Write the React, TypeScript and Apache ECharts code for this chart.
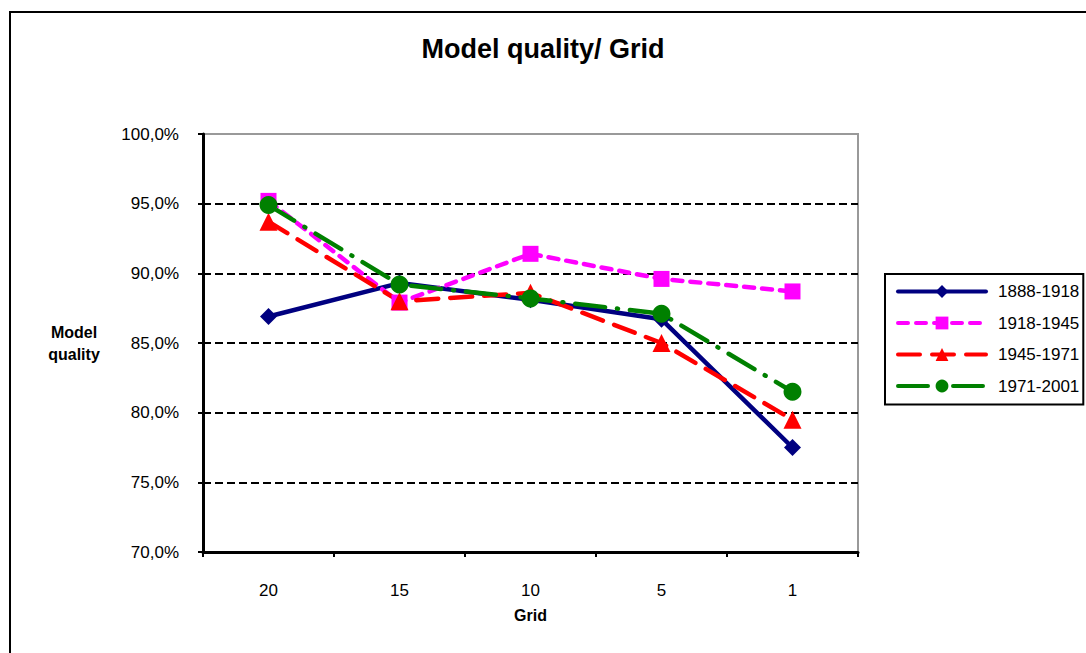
import React, { useEffect, useRef } from "react";
import * as echarts from "echarts";

const categories = ["20", "15", "10", "5", "1"];
const s1888 = [86.9, 89.3, 88.1, 86.7, 77.5];
const s1918 = [95.2, 87.9, 91.4, 89.6, 88.7];
const s1945 = [93.7, 88.0, 88.6, 85.0, 79.5];
const s1971 = [94.9, 89.2, 88.2, 87.1, 81.5];
const seriesNames = ["1888-1918", "1918-1945", "1945-1971", "1971-2001"];

const FONT = "Liberation Sans, Arial, sans-serif";

export default function App() {
  const ref = useRef<HTMLDivElement>(null);
  useEffect(() => {
    if (!ref.current) return;
    const chart = echarts.init(ref.current, null, { renderer: "svg" });
    const mk = (name: string, data: number[], color: string, dash: any, symbol: string, size: number) => ({
      name,
      type: "line",
      data,
      symbol,
      symbolSize: size,
      itemStyle: { color },
      lineStyle: { color, width: 4.5, type: dash, cap: "round" },
      z: 3,
    });
    chart.setOption({
      animation: false,
      backgroundColor: "#fff",
      textStyle: { fontFamily: FONT },
      title: {
        text: "Model quality/ Grid",
        left: "center",
        top: 30,
        textStyle: { fontSize: 27, fontWeight: "bold", color: "#000", fontFamily: FONT },
      },
      graphic: [
        {
          type: "rect",
          shape: { x: 10, y: 12, width: 1090, height: 660 },
          style: { fill: "none", stroke: "#000", lineWidth: 2 },
          z: -1,
        },
      ],
      legend: {
        orient: "vertical",
        left: 885,
        top: 274,
        padding: [9, 4, 10, 11],
        itemWidth: 88,
        itemHeight: 16,
        itemGap: 14.5,
        borderColor: "#000",
        borderWidth: 2,
        backgroundColor: "#fff",
        data: seriesNames,
        lineStyle: { width: 4 },
        textStyle: { fontSize: 17, color: "#000", fontFamily: FONT, padding: [0, 0, 0, 7] },
      },
      grid: {
        left: 203,
        top: 134,
        width: 655,
        height: 418,
        show: true,
        borderColor: "#999",
        borderWidth: 2,
      },
      xAxis: {
        type: "category",
        data: categories,
        boundaryGap: true,
        name: "Grid",
        nameLocation: "middle",
        nameGap: 55,
        nameTextStyle: { fontSize: 16, fontWeight: "bold", color: "#000", fontFamily: FONT },
        axisLine: { lineStyle: { color: "#000", width: 3 } },
        axisTick: { show: true, interval: 0, length: 5, lineStyle: { color: "#000", width: 2 } },
        axisLabel: { fontSize: 17, color: "#000", margin: 30, fontFamily: FONT },
      },
      yAxis: {
        type: "value",
        min: 70,
        max: 100,
        interval: 5,
        name: "Model\nquality",
        nameLocation: "middle",
        nameRotate: 0,
        nameGap: 129,
        nameTextStyle: { fontSize: 16, fontWeight: "bold", color: "#000", lineHeight: 22, align: "center", fontFamily: FONT },
        axisLine: { show: true, lineStyle: { color: "#000", width: 3 } },
        axisTick: { show: true, length: 5, lineStyle: { color: "#000", width: 2 } },
        axisLabel: {
          fontSize: 17,
          color: "#000",
          margin: 24,
          fontFamily: FONT,
          formatter: (v: number) => v.toFixed(1).replace(".", ",") + "%",
        },
        splitLine: {
          show: true,
          showMaxLine: false,
          showMinLine: false,
          lineStyle: { color: "#000", width: 2, type: [8, 4] },
        },
      },
      series: [
        mk(seriesNames[0], s1888, "#000080", "solid", "diamond", 17),
        mk(seriesNames[1], s1918, "#FF00FF", [10, 8], "rect", 16),
        mk(seriesNames[2], s1945, "#FF0000", [22, 12], "triangle", 18),
        mk(seriesNames[3], s1971, "#008000", [30, 12, 1, 12], "circle", 18),
      ],
    });
    return () => chart.dispose();
  }, []);
  return (
    <div
      ref={ref}
      style={{ position: "absolute", left: 0, top: 0, width: 1086, height: 653 }}
    />
  );
}
